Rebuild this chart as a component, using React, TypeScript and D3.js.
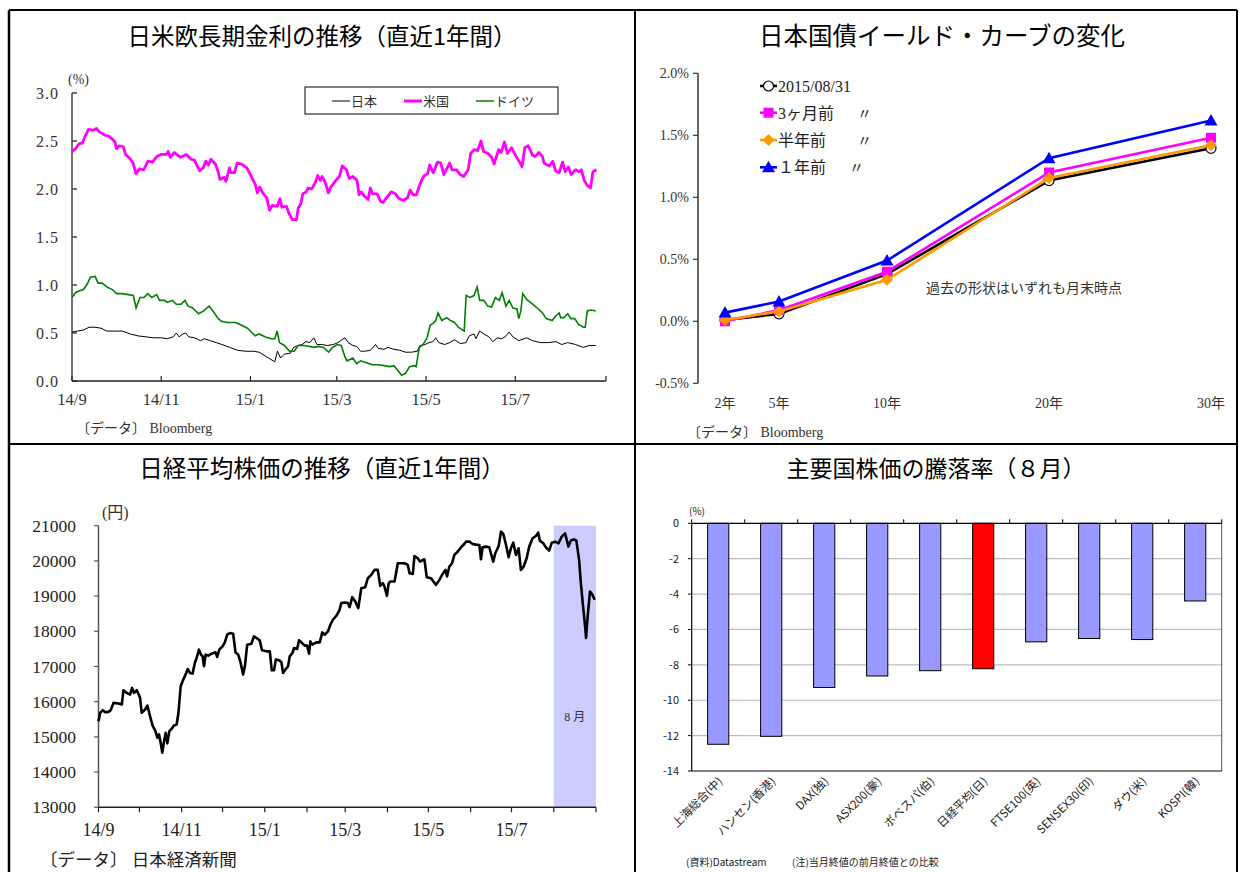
import React from 'react';
import * as d3 from 'd3';

const SERIF = '"Liberation Serif", "DejaVu Serif", "Noto Sans CJK JP", serif';
const GOTHIC = '"Noto Sans CJK JP", "Noto Sans", sans-serif';

// ---------- Chart 1: long-term rates (day offset from 2014-09-01, %) ----------
const rateTickLabels = ['0.0', '0.5', '1.0', '1.5', '2.0', '2.5', '3.0'];
const rateMonthLabels = ['14/9', '14/11', '15/1', '15/3', '15/5', '15/7'];
const rateLegend = ['日本', '米国', 'ドイツ'];

const usYield: [number, number][] = [[0,2.39],[2.4,2.42],[4.8,2.47],[7.2,2.48],[8.4,2.53],[11.2,2.62],[14.3,2.61],[16.7,2.63],[19.1,2.59],[22.7,2.56],[25.1,2.55],[27.5,2.52],[29.4,2.49],[30.4,2.42],[32.3,2.45],[35.1,2.44],[36.6,2.36],[39.4,2.32],[41.8,2.27],[43.7,2.16],[46.1,2.21],[49,2.20],[51.9,2.29],[54.9,2.28],[58.1,2.34],[60.9,2.36],[64.5,2.36],[65.7,2.39],[67.2,2.33],[70,2.38],[74.1,2.33],[78.2,2.36],[81.3,2.31],[83.7,2.30],[87.2,2.19],[89.6,2.22],[91.5,2.29],[93.2,2.25],[94.9,2.31],[98,2.26],[99.7,2.19],[101.1,2.10],[104,2.12],[105.2,2.08],[107.6,2.22],[108.7,2.17],[111.1,2.17],[112.8,2.27],[115.9,2.26],[119.5,2.22],[122.6,2.13],[125.5,2.04],[126.7,1.96],[128.3,2.02],[130.3,1.96],[133.1,1.91],[135,1.78],[136.9,1.83],[140.3,1.82],[142.2,1.90],[143.4,1.81],[146.5,1.82],[148.2,1.75],[150.6,1.68],[153.4,1.68],[154.6,1.80],[156.5,1.85],[157.7,1.95],[160.1,1.97],[161.3,2.01],[163.7,2.00],[166.1,2.06],[168,2.14],[169.7,2.09],[170.9,2.13],[173.3,2.06],[175.2,1.96],[176.9,2.02],[180.4,2.09],[182.8,2.13],[184.7,2.24],[187.6,2.20],[189.5,2.11],[191.9,2.13],[194.8,2.09],[196.2,1.94],[197.7,1.97],[199.6,1.93],[202.4,1.89],[203.9,2.01],[205.5,1.95],[208.6,1.95],[211,1.87],[212.7,1.86],[215.1,1.91],[218.2,1.97],[221.1,1.95],[223.5,1.90],[226.6,1.88],[229.4,1.91],[231.1,1.99],[233,1.94],[235.4,1.94],[237.8,2.05],[240.2,2.13],[243.1,2.16],[244.5,2.25],[246.9,2.17],[249.8,2.28],[252.1,2.27],[254.1,2.15],[258.1,2.27],[259.8,2.20],[262.9,2.20],[265.3,2.15],[267.7,2.13],[270.8,2.20],[272.5,2.37],[274.9,2.41],[277.2,2.40],[279.6,2.50],[281.3,2.39],[284.4,2.37],[286.8,2.33],[288.5,2.26],[291.6,2.41],[293.3,2.38],[295.6,2.49],[297.6,2.37],[300.4,2.43],[303.5,2.34],[305.9,2.28],[307.6,2.23],[309.5,2.43],[311.9,2.45],[314.8,2.35],[316.7,2.34],[319.1,2.38],[321.5,2.34],[322.7,2.27],[326.2,2.24],[328.6,2.29],[330.5,2.19],[332.9,2.17],[335.3,2.28],[337,2.18],[339.4,2.23],[341.1,2.15],[344.2,2.20],[346.6,2.18],[348.2,2.20],[350.1,2.09],[352,2.04],[354.4,2.01],[356.1,2.18],[358.5,2.20]];

const deYield: [number, number][] = [[0,0.87],[2.4,0.92],[5,0.94],[7.7,0.95],[10.4,1.01],[12.5,1.08],[15.8,1.09],[17.9,1.02],[20.6,1.02],[23.8,0.98],[27.8,0.95],[30.4,0.91],[34.4,0.91],[38.4,0.90],[41.9,0.89],[43.8,0.76],[46.5,0.87],[49.1,0.87],[51.8,0.91],[54.5,0.87],[57.9,0.90],[59.8,0.84],[63.3,0.84],[65.1,0.82],[68.6,0.84],[71.3,0.80],[74.5,0.80],[77.2,0.84],[79.3,0.78],[82.5,0.76],[86.5,0.70],[90,0.73],[93.7,0.78],[97.2,0.71],[99.9,0.65],[102.5,0.62],[106.5,0.61],[111.9,0.61],[115.9,0.58],[119.9,0.55],[122.6,0.51],[125.2,0.47],[127.9,0.49],[131.9,0.46],[135.9,0.44],[138.6,0.44],[140.2,0.52],[141.8,0.40],[145.2,0.37],[148.7,0.31],[151.9,0.31],[154.6,0.37],[158.6,0.37],[162.6,0.36],[165.3,0.35],[168.5,0.36],[171.9,0.35],[175.4,0.30],[178.1,0.35],[181.3,0.38],[184,0.37],[186.6,0.25],[188,0.21],[192,0.24],[194.6,0.18],[197.3,0.21],[201.3,0.19],[205.3,0.17],[209.3,0.17],[213.3,0.16],[217.3,0.15],[220,0.16],[222.7,0.11],[225.3,0.06],[228,0.08],[230.7,0.15],[234.2,0.16],[235.2,0.15],[237.4,0.35],[240,0.38],[242.7,0.45],[244.8,0.58],[246.7,0.60],[248.6,0.63],[250.2,0.71],[252.8,0.63],[256.1,0.66],[258.7,0.63],[261.4,0.61],[264.1,0.56],[268.1,0.52],[269.4,0.89],[272.1,0.87],[274.8,0.89],[276.9,0.98],[278.7,0.84],[281.5,0.84],[284.1,0.78],[286.8,0.77],[289.4,0.87],[292.1,0.84],[294,0.92],[296.6,0.78],[298.8,0.84],[301.4,0.76],[304.1,0.75],[305.4,0.65],[306.8,0.73],[308.1,0.91],[310.8,0.85],[314.8,0.80],[318.8,0.75],[321.5,0.71],[324.2,0.65],[328.2,0.63],[330.8,0.68],[333,0.71],[334,0.66],[336.2,0.66],[338.8,0.70],[341,0.65],[343.6,0.65],[346.3,0.59],[349.5,0.56],[350.8,0.56],[352.2,0.73],[354.8,0.74],[358,0.73]];

const jpYield: [number, number][] = [[0,0.51],[3.7,0.52],[7.7,0.53],[11.7,0.56],[15.8,0.56],[19.8,0.55],[23.8,0.52],[29.1,0.52],[34.4,0.52],[39.8,0.49],[45.1,0.47],[50.5,0.46],[55.8,0.45],[61.1,0.45],[65.1,0.44],[69.2,0.46],[71.3,0.50],[73.2,0.46],[75.8,0.49],[77.7,0.50],[79.8,0.46],[83.8,0.45],[87.8,0.42],[90.5,0.44],[94.5,0.42],[98.5,0.40],[102.5,0.38],[107.9,0.35],[113.2,0.32],[118.5,0.31],[123.9,0.31],[127.9,0.30],[133.2,0.25],[138.6,0.20],[140.4,0.31],[142.6,0.24],[145.2,0.28],[149.3,0.29],[151.4,0.35],[154.6,0.37],[157.3,0.38],[159.9,0.41],[162.6,0.40],[165.3,0.45],[167.4,0.38],[170.6,0.38],[174.6,0.37],[178.6,0.38],[181.8,0.40],[184.5,0.43],[186.6,0.45],[188.8,0.40],[192,0.37],[194.6,0.36],[197.3,0.31],[200,0.31],[204,0.32],[207.5,0.38],[209.3,0.34],[213.3,0.33],[216,0.35],[220,0.33],[224,0.32],[228,0.30],[232,0.30],[236,0.31],[237.9,0.37],[241.4,0.38],[244,0.40],[246.7,0.41],[248.6,0.45],[250.7,0.40],[254.7,0.38],[258.2,0.40],[261.4,0.43],[265.4,0.39],[269.4,0.40],[271.5,0.47],[274.8,0.49],[276.1,0.44],[278.7,0.52],[281.5,0.49],[284.9,0.46],[287.6,0.41],[290.8,0.45],[293.5,0.44],[296.1,0.46],[298.8,0.51],[301.4,0.46],[305.4,0.42],[310.8,0.45],[314.8,0.42],[320.1,0.40],[325.5,0.40],[330.8,0.41],[334.8,0.38],[338.8,0.40],[344.2,0.38],[349.5,0.35],[353.5,0.37],[358,0.37]];

// ---------- Chart 2: JGB yield curve ----------
const tenorLabels = ['2年', '5年', '10年', '20年', '30年'];
const tenorSlots = [0, 1, 3, 6, 9];
const curveTickLabels = ['-0.5%', '0.0%', '0.5%', '1.0%', '1.5%', '2.0%'];
const curveNow = [0.01, 0.06, 0.38, 1.135, 1.395];
const curve3m = [0.0, 0.09, 0.40, 1.20, 1.48];
const curve6m = [0.01, 0.08, 0.335, 1.155, 1.42];
const curve1y = [0.07, 0.16, 0.49, 1.315, 1.62];
const curveLegend = ['2015/08/31', '3ヶ月前', '半年前', '１年前'];

// ---------- Chart 3: Nikkei (day offset from 2014-09-01, yen) ----------
const nikkeiTickLabels = ['13000', '14000', '15000', '16000', '17000', '18000', '19000', '20000', '21000'];
const nikkeiMonthLabels = ['14/9', '14/11', '15/1', '15/3', '15/5', '15/7'];
const nikkei: [number, number][] = [[0,15448],[1.2,15684],[3.2,15760],[4.9,15703],[7.3,15712],[9,15760],[11,15967],[14.6,15948],[17.1,15920],[18.3,16326],[20.7,16250],[23.2,16203],[24.6,16392],[26.1,16250],[28.1,16326],[30.5,16109],[31.7,15684],[34.2,15779],[35.9,15892],[37.8,15590],[39.8,15307],[41.5,15193],[43.2,14976],[44.4,15070],[45.6,14834],[46.8,14551],[48.1,14881],[49.3,15118],[50.5,14815],[52,15165],[53.7,15231],[55.4,15325],[57.3,15354],[58.6,15665],[60.3,16439],[62.2,16628],[64.2,16798],[65.4,16930],[67.1,16817],[69,16798],[70.8,17119],[72,17242],[73.7,17478],[75.2,17337],[76.4,17289],[77.4,17006],[78.6,17337],[80.5,17308],[83,17365],[85.9,17403],[87.1,17270],[88.6,17478],[91,17573],[92.7,17686],[94.4,17903],[96.4,17950],[98.8,17931],[100.5,17403],[102.5,17337],[104.2,17119],[106.1,16770],[107.4,17006],[109.1,17620],[112.2,17648],[114,17856],[115.9,17809],[118.3,17743],[120,17459],[123.2,17431],[125.7,17431],[127.1,16893],[128.8,16893],[130.1,17195],[132.5,17176],[134.2,17119],[135.4,16817],[137.1,16911],[139.1,17006],[140.3,17289],[142.3,17384],[143.5,17525],[145.7,17497],[147.1,17743],[148.8,17686],[151.3,17592],[153,17592],[154.5,17365],[155.4,17714],[156.9,17620],[159.8,17686],[162.3,17686],[164.2,17969],[165.9,17903],[168.4,17997],[170.1,18186],[172,18328],[174.5,18441],[176.9,18611],[178.1,18800],[180.6,18819],[183,18800],[184.2,18687],[186.2,18970],[188.4,18847],[190.6,18658],[192.8,19225],[195.7,19253],[197.6,19508],[200.1,19603],[202.5,19745],[204.9,19745],[206.7,19291],[208.6,19367],[209.8,19272],[211.6,19008],[212.8,19348],[214,19414],[217.2,19414],[219.6,19933],[222,19933],[224.5,19933],[226.9,19886],[228.2,19650],[230.6,19631],[231.8,20141],[234.2,20075],[235.9,19981],[239.1,20047],[240.8,19537],[244,19508],[245.7,19414],[247.6,19320],[250.1,19461],[252.5,19631],[254.5,19745],[255.7,19556],[257.4,19839],[259.4,19933],[261.1,20170],[263.5,20264],[266,20387],[268.4,20481],[269.6,20547],[272.1,20547],[274.5,20481],[276.9,20462],[279.4,20453],[280.6,20047],[281.8,20387],[284.3,20406],[286.7,20387],[287.9,20217],[289.6,19981],[291.1,20217],[293.6,20425],[295.3,20830],[297,20764],[299,20453],[300.9,20104],[302.6,20358],[304.3,20519],[306.3,20170],[308.2,20358],[309.9,19745],[311.9,19839],[314.1,20075],[316,20406],[318.5,20642],[320.9,20708],[322.6,20802],[323.8,20576],[326.3,20500],[328.2,20387],[330.6,20292],[332.6,20519],[335,20547],[337.5,20500],[339.9,20689],[342.3,20783],[344.8,20406],[346.5,20576],[348.9,20613],[350.6,20576],[352.6,20028],[353.8,19414],[355.5,18706],[357,18139],[357.7,17809],[358.9,18422],[360.6,19131],[362.4,19036],[364,18895]];

// ---------- Chart 4: stock index changes in August (%) ----------
const indexNames = ['上海総合(中)', 'ハンセン(香港)', 'DAX(独)', 'ASX200(豪)', 'ボベスパ(伯)', '日経平均(日)', 'FTSE100(英)', 'SENSEX30(印)', 'ダウ(米)', 'KOSPI(韓)'];
const indexChange = [-12.49, -12.04, -9.28, -8.63, -8.33, -8.22, -6.70, -6.51, -6.57, -4.39];
const changeTickLabels = ['0', '-2', '-4', '-6', '-8', '-10', '-12', '-14'];

const START = new Date(2014, 8, 1);
const END = new Date(2015, 8, 1);
const dayToDate = (d: number) => new Date(START.getTime() + d * 86400000);
const labelToDate = (s: string) => {
  const [yy, mm] = s.split('/').map(Number);
  return new Date(2000 + yy, mm - 1, 1);
};

function RatesChart() {
  const x = d3.scaleTime().domain([START, END]).range([72, 606]);
  const y = d3.scaleLinear().domain([0, 3]).range([381, 93]);
  const line = d3.line<[number, number]>().x(p => x(dayToDate(p[0]))).y(p => y(p[1]));
  const tickDates = [...rateMonthLabels.map(labelToDate), END];
  const legendX = [332, 404, 476];
  const legendColors = ['#000', '#ff00ff', '#008000'];
  const legendW = [1, 3, 1.5];
  return (
    <g>
      <text x={322} y={45} textAnchor="middle" fontFamily={GOTHIC} fontSize={23.5} fill="#000">日米欧長期金利の推移（直近1年間）</text>
      <text x={68} y={84} fontFamily={SERIF} fontSize={14} fill="#333">(%)</text>
      {rateTickLabels.map(t => (
        <g key={t}>
          <text x={59} y={y(+t) + 5.5} textAnchor="end" fontFamily={SERIF} fontSize={16} letterSpacing={1} fill="#333">{t}</text>
          <line x1={72} x2={77} y1={y(+t)} y2={y(+t)} stroke="#444" strokeWidth={1.5} />
        </g>
      ))}
      <line x1={72} x2={72} y1={y(3)} y2={y(0)} stroke="#444" strokeWidth={1.5} />
      <line x1={72} x2={x(END)} y1={y(0)} y2={y(0)} stroke="#222" strokeWidth={1.5} />
      {tickDates.map((d, i) => (
        <line key={i} x1={x(d)} x2={x(d)} y1={y(0)} y2={y(0) - 5} stroke="#222" strokeWidth={1.2} />
      ))}
      {rateMonthLabels.map(l => (
        <text key={l} x={x(labelToDate(l))} y={405} textAnchor="middle" fontFamily={SERIF} fontSize={16.5} fill="#333">{l}</text>
      ))}
      <path d={line(jpYield) || ''} fill="none" stroke="#000" strokeWidth={1} />
      <path d={line(deYield) || ''} fill="none" stroke="#008000" strokeWidth={1.6} />
      <path d={line(usYield) || ''} fill="none" stroke="#ff00ff" strokeWidth={2.8} strokeLinejoin="round" />
      <rect x={305} y={87} width={253} height={27} fill="#fff" stroke="#000" strokeWidth={1} />
      {rateLegend.map((n, i) => (
        <g key={n}>
          <line x1={legendX[i]} x2={legendX[i] + 18} y1={101} y2={101} stroke={legendColors[i]} strokeWidth={legendW[i]} />
          <text x={legendX[i] + 19} y={105.5} fontFamily={GOTHIC} fontSize={13} fill="#333">{n}</text>
        </g>
      ))}
      <text x={76} y={433} fontFamily={SERIF} fontSize={14} fill="#333">〔データ〕 Bloomberg</text>
    </g>
  );
}

function Marker({ kind, cx, cy, color }: { kind: string; cx: number; cy: number; color: string }) {
  if (kind === 'circle') return <circle cx={cx} cy={cy} r={5} fill="#fff" stroke="#000" strokeWidth={1.2} />;
  if (kind === 'square') return <rect x={cx - 5} y={cy - 5} width={10} height={10} fill={color} />;
  if (kind === 'diamond') return <path d={`M${cx},${cy - 6}L${cx + 6},${cy}L${cx},${cy + 6}L${cx - 6},${cy}Z`} fill={color} />;
  return <path d={`M${cx},${cy - 6.5}L${cx + 6.5},${cy + 5}L${cx - 6.5},${cy + 5}Z`} fill={color} />;
}

function CurveChart() {
  const x = d3.scaleLinear().domain([-0.5, 9.5]).range([698, 1238]);
  const y = d3.scaleLinear().domain([-0.5, 2.0]).range([383.3, 73.3]);
  const series = [
    { vals: curveNow, color: '#000', kind: 'circle' },
    { vals: curve3m, color: '#ff00ff', kind: 'square' },
    { vals: curve6m, color: '#ff9900', kind: 'diamond' },
    { vals: curve1y, color: '#0000ff', kind: 'triangle' },
  ];
  const line = d3.line<number>().x((_, i) => x(tenorSlots[i])).y(v => y(v));
  const legY = [86, 112.7, 140, 167.3];
  const dittoX = [0, 857, 857, 849];
  return (
    <g>
      <text x={942} y={45} textAnchor="middle" fontFamily={GOTHIC} fontSize={24.5} fill="#000">日本国債イールド・カーブの変化</text>
      <line x1={698} x2={698} y1={y(2)} y2={y(-0.5)} stroke="#333" strokeWidth={1.5} />
      {curveTickLabels.map(t => (
        <g key={t}>
          <line x1={693} x2={698} y1={y(parseFloat(t))} y2={y(parseFloat(t))} stroke="#333" strokeWidth={1.2} />
          <text x={689} y={y(parseFloat(t)) + 5} textAnchor="end" fontFamily={SERIF} fontSize={14} fill="#333">{t}</text>
        </g>
      ))}
      {tenorLabels.map((l, i) => (
        <text key={l} x={x(tenorSlots[i])} y={408} textAnchor="middle" fontFamily={SERIF} fontSize={14} fill="#333">{l}</text>
      ))}
      {series.map((s, si) => (
        <g key={si}>
          <path d={line(s.vals) || ''} fill="none" stroke={s.color} strokeWidth={2.6} />
          {s.vals.map((v, i) => <Marker key={i} kind={s.kind} cx={x(tenorSlots[i])} cy={y(v)} color={s.color} />)}
        </g>
      ))}
      {series.map((s, i) => (
        <g key={'l' + i}>
          <line x1={760} x2={777} y1={legY[i]} y2={legY[i]} stroke={s.color} strokeWidth={2.6} />
          <Marker kind={s.kind} cx={768.5} cy={legY[i]} color={s.color} />
          <text x={778} y={legY[i] + 6} fontFamily={SERIF} fontSize={16} fill="#222">{curveLegend[i]}</text>
          {i > 0 && <text x={dittoX[i]} y={legY[i] + 6} fontFamily={SERIF} fontSize={15} fill="#222">〃</text>}
        </g>
      ))}
      <text x={926} y={293} fontFamily={GOTHIC} fontSize={14} fill="#333">過去の形状はいずれも月末時点</text>
      <text x={687} y={437} fontFamily={SERIF} fontSize={14} fill="#333">〔データ〕 Bloomberg</text>
    </g>
  );
}

function NikkeiChart() {
  const x = d3.scaleTime().domain([START, END]).range([98.5, 596]);
  const y = d3.scaleLinear().domain([13000, 21000]).range([807.3, 525.7]);
  const line = d3.line<[number, number]>().x(p => x(dayToDate(p[0]))).y(p => y(p[1]));
  const months = d3.timeMonth.range(START, d3.timeDay.offset(END, 1));
  const augStart = new Date(2015, 7, 1);
  return (
    <g>
      <text x={322} y={477} textAnchor="middle" fontFamily={GOTHIC} fontSize={23.5} fill="#000">日経平均株価の推移（直近1年間）</text>
      <rect x={x(augStart)} y={y(21000)} width={x(END) - x(augStart)} height={y(13000) - y(21000)} fill="#ccccff" />
      <text x={x(augStart) + (x(END) - x(augStart)) / 2} y={721} textAnchor="middle" fontFamily={SERIF} fontSize={12} fill="#333">8 月</text>
      <text x={102} y={518} fontFamily={SERIF} fontSize={16} fill="#333">(円)</text>
      <line x1={98.5} x2={98.5} y1={y(21000)} y2={y(13000)} stroke="#555" strokeWidth={1.5} />
      {nikkeiTickLabels.map(t => (
        <g key={t}>
          <line x1={94} x2={98.5} y1={y(+t)} y2={y(+t)} stroke="#555" strokeWidth={1.2} />
          <text x={76} y={y(+t) + 6} textAnchor="end" fontFamily={SERIF} fontSize={17.5} fill="#222">{t}</text>
        </g>
      ))}
      <line x1={98.5} x2={x(END)} y1={y(13000)} y2={y(13000)} stroke="#222" strokeWidth={1.5} />
      {months.map((m, i) => (
        <line key={i} x1={x(m)} x2={x(m)} y1={y(13000)} y2={y(13000) + 5} stroke="#222" strokeWidth={1.2} />
      ))}
      {nikkeiMonthLabels.map(l => (
        <text key={l} x={x(labelToDate(l))} y={836} textAnchor="middle" fontFamily={SERIF} fontSize={18} fill="#222">{l}</text>
      ))}
      <path d={line(nikkei) || ''} fill="none" stroke="#000" strokeWidth={2.6} strokeLinejoin="round" />
      <text x={40} y={866} fontFamily={SERIF} fontSize={17.5} fill="#222">〔データ〕 日本経済新聞</text>
    </g>
  );
}

function IndexChart() {
  const x = d3.scaleBand<string>().domain(indexNames).range([691.7, 1221.7]).paddingInner(0.6).paddingOuter(0.3);
  const y = d3.scaleLinear().domain([-14, 0]).range([771, 523.3]);
  const step = x.step();
  const bounds = d3.range(indexNames.length + 1).map(i => 691.7 + i * step);
  return (
    <g>
      <text x={936} y={477} textAnchor="middle" fontFamily={GOTHIC} fontSize={23} fill="#000">主要国株価の騰落率（８月）</text>
      <text x={689} y={515} fontFamily={GOTHIC} fontSize={10} fill="#222">(%)</text>
      {changeTickLabels.map(t => (
        <g key={t}>
          {+t !== 0 && +t !== -14 && <line x1={691.7} x2={1221.7} y1={y(+t)} y2={y(+t)} stroke="#bdbdbd" strokeWidth={1.2} />}
          <line x1={688} x2={691.7} y1={y(+t)} y2={y(+t)} stroke="#000" strokeWidth={1} />
          <text x={679} y={y(+t) + 4} textAnchor="end" fontFamily={GOTHIC} fontSize={11} fill="#222">{t}</text>
        </g>
      ))}
      <line x1={1221.7} x2={1221.7} y1={y(0)} y2={y(-14)} stroke="#555" strokeWidth={1} />
      <line x1={691.7} x2={1221.7} y1={y(-14)} y2={y(-14)} stroke="#000" strokeWidth={1} />
      {indexNames.map((n, i) => (
        <rect key={n} x={x(n)} y={y(0)} width={x.bandwidth()} height={y(indexChange[i]) - y(0)}
          fill={n.startsWith('日経') ? '#ff0000' : '#9999ff'} stroke="#000" strokeWidth={1} />
      ))}
      <line x1={691.7} x2={691.7} y1={y(0)} y2={y(-14)} stroke="#000" strokeWidth={1.2} />
      <line x1={691.7} x2={1221.7} y1={y(0)} y2={y(0)} stroke="#000" strokeWidth={1.2} />
      {bounds.map((b, i) => (
        <line key={i} x1={b} x2={b} y1={y(0)} y2={y(0) - 4} stroke="#000" strokeWidth={1} />
      ))}
      {indexNames.map(n => {
        const cx = (x(n) || 0) + x.bandwidth() / 2 + 5;
        return (
          <text key={'t' + n} transform={`translate(${cx},${782}) rotate(-45)`} textAnchor="end"
            fontFamily={GOTHIC} fontSize={11.5} fill="#222">{n}</text>
        );
      })}
      <text x={686} y={866} fontFamily={GOTHIC} fontSize={10} fill="#222">(資料)Datastream</text>
      <text x={792} y={866} fontFamily={GOTHIC} fontSize={10} fill="#222">(注)当月終値の前月終値との比較</text>
    </g>
  );
}

export default function App() {
  return (
    <svg width={1239} height={872} viewBox="0 0 1239 872"
      style={{ position: 'absolute', left: 0, top: 0, background: '#fff' }}>
      <rect x={0} y={0} width={1239} height={872} fill="#fff" />
      <RatesChart />
      <CurveChart />
      <NikkeiChart />
      <IndexChart />
      <g stroke="#000" strokeWidth={2}>
        <line x1={9} x2={1237} y1={10} y2={10} />
        <line x1={9} x2={9} y1={10} y2={872} strokeWidth={2.5} />
        <line x1={1237} x2={1237} y1={10} y2={872} />
        <line x1={635} x2={635} y1={10} y2={872} />
        <line x1={9} x2={1237} y1={444} y2={444} />
      </g>
    </svg>
  );
}
